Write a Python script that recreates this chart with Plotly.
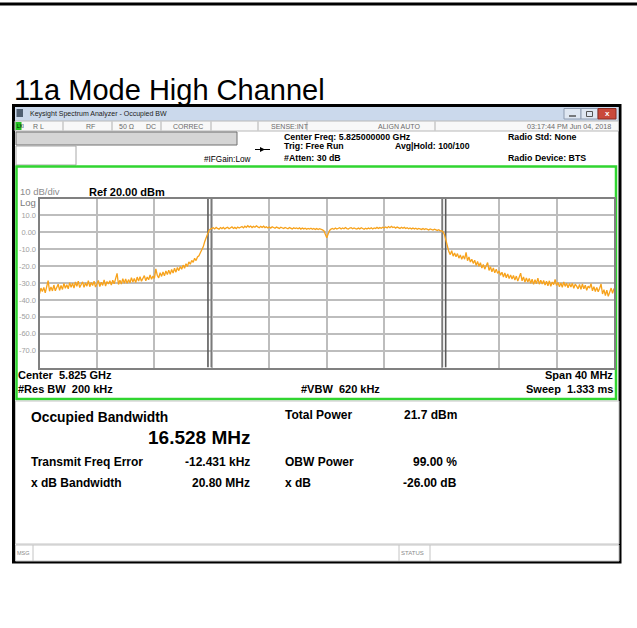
import plotly.graph_objects as go

# ---------------- data ----------------
center_ghz = 5.825
span_ghz = 0.040
ref_level_dbm = 20.0
db_per_div = 10.0
n_div = 10

# spectrum trace, 401 points across the 40 MHz span (dBm)
trace_dbm = [
    -36.4, -33.0, -35.1, -32.6, -35.8, -31.4, -28.6, -34.9, -32.3, -34.7,
    -31.2, -34.6, -32.0, -30.7, -34.4, -31.5, -33.8, -30.2, -33.1, -31.0,
    -33.4, -29.8, -32.6, -30.1, -33.0, -29.4, -31.9, -28.9, -32.7, -30.5,
    -29.3, -32.6, -30.0, -31.9, -28.6, -32.2, -29.7, -31.5, -28.9, -32.4,
    -30.9, -28.5, -32.1, -29.6, -31.4, -28.2, -31.8, -29.1, -30.6, -28.7,
    -31.2, -28.4, -30.5, -27.9, -24.3, -30.9, -28.3, -30.6, -27.5, -30.1,
    -27.6, -30.2, -28.0, -29.9, -26.8, -29.4, -27.3, -29.8, -26.5, -28.9,
    -26.3, -29.0, -27.2, -25.6, -28.7, -26.4, -28.1, -25.3, -27.8, -25.9,
    -27.3, -21.6, -25.4, -27.0, -23.9, -26.1, -23.5, -25.8, -22.9, -25.0,
    -22.4, -24.9, -22.0, -24.1, -21.3, -23.6, -20.8, -22.7, -20.2, -21.9,
    -19.4, -21.3, -18.6, -20.2, -17.5, -18.9, -16.6, -17.8, -15.4, -16.7,
    -14.6, -13.9, -12.1, -10.4, -8.6, -5.6, -2.9, -0.6, 1.2, 1.9,
    2.1, 2.7, 2.0, 2.9, 2.3, 1.9, 2.8, 2.2, 2.9, 2.0,
    2.6, 3.0, 2.1, 2.7, 3.2, 2.3, 2.9, 2.2, 3.1, 2.5,
    2.9, 3.4, 2.6, 3.6, 2.9, 3.9, 3.1, 3.7, 2.8, 3.5,
    3.0, 3.8, 3.2, 2.7, 3.5, 2.9, 3.6, 2.8, 3.3, 2.6,
    3.1, 2.5, 3.3, 2.7, 2.4, 3.1, 2.6, 2.3, 3.0, 2.5,
    2.2, 2.9, 2.4, 2.1, 2.8, 2.3, 2.0, 2.7, 2.2, 2.6,
    2.1, 2.6, 1.9, 2.5, 2.0, 2.4, 1.8, 2.3, 1.9, 2.4,
    1.8, 2.3, 1.7, 2.2, 1.6, 2.1, 1.5, 1.4, 0.9, -0.8,
    -3.2, -0.9, 1.1, 1.9, 2.3, 1.8, 2.5, 1.9, 2.4, 2.7,
    2.0, 2.6, 2.1, 2.8, 2.2, 1.9, 2.5, 2.7, 2.1, 2.6,
    2.2, 1.9, 2.5, 2.0, 2.7, 2.1, 1.8, 2.4, 1.9, 2.5,
    2.1, 2.7, 2.0, 2.6, 2.2, 2.9, 2.3, 2.8, 2.4, 3.0,
    2.5, 3.1, 2.6, 3.4, 2.7, 3.5, 2.8, 3.2, 2.5, 3.1,
    2.6, 2.3, 3.0, 2.4, 2.9, 2.2, 2.7, 2.1, 2.6, 2.0,
    2.5, 1.9, 2.4, 1.8, 2.3, 1.9, 1.7, 2.2, 1.6, 2.1,
    1.7, 1.4, 2.0, 1.5, 1.3, 1.8, 1.4, 1.1, 1.5, 0.9,
    0.9, 0.2, -1.5, -4.6, -8.8, -11.4, -13.2, -10.9, -14.1, -12.3,
    -14.5, -12.6, -15.3, -13.4, -16.0, -13.8, -15.9, -11.9, -16.8, -14.6,
    -17.6, -15.9, -18.4, -16.5, -19.6, -17.3, -20.1, -18.0, -21.2, -19.0,
    -21.8, -19.6, -17.9, -22.6, -20.4, -23.4, -21.1, -24.0, -21.8, -24.3,
    -22.9, -25.4, -23.6, -26.5, -24.1, -26.9, -24.6, -27.4, -25.2, -27.6,
    -25.5, -28.3, -25.9, -28.9, -26.6, -24.2, -28.7, -26.4, -29.5, -27.0,
    -29.4, -27.3, -30.2, -27.8, -30.8, -28.0, -30.4, -27.1, -30.7, -28.4,
    -30.6, -28.5, -31.2, -29.0, -31.6, -28.7, -31.9, -29.4, -31.0, -27.9,
    -31.5, -29.6, -32.3, -30.0, -32.5, -29.4, -32.0, -30.1, -32.9, -30.3,
    -32.4, -30.2, -33.1, -30.7, -31.9, -33.5, -30.9, -33.8, -30.6, -33.4,
    -31.3, -34.3, -31.9, -33.0, -30.4, -34.6, -32.2, -35.0, -32.6, -35.2,
    -33.1, -30.6, -36.5, -33.9, -37.4, -34.2, -37.9, -34.8, -33.0, -36.1,
    -33.2,
]

# occupied-bandwidth marker lines (GHz)
obw_marker_ghz = [5.81673, 5.81696, 5.83305, 5.83328]
obw_marker_colors = ["#5a5a5a", "#7a7a7a", "#7a7a7a", "#5a5a5a"]

y_tick_vals = [10, 0, -10, -20, -30, -40, -50, -60, -70]
y_tick_text = ["10.0", "0.00", "-10.0", "-20.0", "-30.0", "-40.0", "-50.0", "-60.0", "-70.0"]

page_title = "11a Mode High Channel"
window_title = "Keysight Spectrum Analyzer - Occupied BW"
status_items = ["R L", "RF", "50 \u03a9", "DC", "CORREC", "SENSE:INT", "ALIGN AUTO"]
timestamp = "03:17:44 PM Jun 04, 2018"
settings_col1 = ["Center Freq: 5.825000000 GHz", "Trig: Free Run", "#Atten: 30 dB"]
settings_avg = "Avg|Hold: 100/100"
settings_col3 = ["Radio Std: None", "Radio Device: BTS"]
if_gain = "#IFGain:Low"
scale_text = "10 dB/div"
ref_text = "Ref 20.00 dBm"
bottom_left = ["Center\u00a0\u00a05.825 GHz", "#Res BW\u00a0\u00a0200 kHz"]
bottom_mid = "#VBW\u00a0\u00a0620 kHz"
bottom_right = ["Span 40 MHz", "Sweep\u00a0\u00a01.333 ms"]
obw_label = "Occupied Bandwidth"
obw_value = "16.528 MHz"
result_labels_left = ["Transmit Freq Error", "x dB Bandwidth"]
result_values_left = ["-12.431 kHz", "20.80 MHz"]
result_labels_right = ["Total Power", "OBW Power", "x dB"]
result_values_right = ["21.7 dBm", "99.00 %", "-26.00 dB"]

# ---------------- layout helpers ----------------
W, H = 637, 628
FONT = "Liberation Sans, Arial, sans-serif"


def px(x):
    return x / W


def py(y):
    return 1 - y / H


shapes = []
annotations = []


def rect(x0, y0, x1, y1, fill=None, line=None, lw=1):
    shapes.append(dict(type="rect", xref="paper", yref="paper",
                       x0=px(x0), x1=px(x1), y0=py(y1), y1=py(y0),
                       fillcolor=fill if fill else "rgba(0,0,0,0)",
                       line=dict(color=line if line else "rgba(0,0,0,0)", width=lw if line else 0),
                       layer="below"))


def hline(x0, y0, x1, y1, color, lw=1):
    shapes.append(dict(type="line", xref="paper", yref="paper",
                       x0=px(x0), x1=px(x1), y0=py(y0), y1=py(y1),
                       line=dict(color=color, width=lw), layer="below"))


def text(x, y, s, size, color="#000000", bold=False, anchor="left", family=FONT):
    annotations.append(dict(x=px(x), y=py(y), xref="paper", yref="paper",
                            text=("<b>%s</b>" % s) if bold else s, showarrow=False,
                            xanchor=anchor, yanchor="middle", borderpad=0,
                            font=dict(size=size, color=color, family=family)))


# page decoration
hline(0, 4, 637, 4, "#000000", 3)
text(13, 90, page_title, 29)

# window
rect(13.5, 105.5, 620, 562, fill="#ffffff", line="#000000", lw=3)
rect(15, 107, 618.5, 121, fill="#cbd9ec")
rect(16.5, 109, 23, 117, fill="#4f5f72")
text(29, 114, window_title, 7, color="#222222")
rect(564, 108.5, 581, 119, fill="#dfe7f2", line="#8d9bb0")
rect(581, 108.5, 598, 119, fill="#dfe7f2", line="#8d9bb0")
rect(598, 108.5, 616, 119, fill="#c9493b", line="#8b2c22")
hline(569, 116, 576, 116, "#555555", 1.5)
rect(586.5, 111.5, 592.5, 116.5, line="#555555", lw=1)
text(607, 113.5, "x", 8, color="#ffffff", bold=True, anchor="center")

# status row
rect(15, 121, 618.5, 131, fill="#f8f8f8", line="#b8b8b8")
rect(15.5, 122, 21.5, 130, fill="#22c022")
text(15.5, 126, "LXI", 4.5, color="#000000")
status_x = [32, 85, 118, 145, 172, 270, 377]
for sx, s in zip(status_x, status_items):
    text(sx, 126, s, 7, color="#6a6a6a")
text(612, 126, timestamp, 7.2, color="#6a6a6a", anchor="right")
for sep in [63, 112, 161, 211, 258, 307, 435]:
    hline(sep, 121.5, sep, 130.5, "#b0b0b0", 1)

# settings area
rect(16, 132, 237, 145, fill="#d5d5d5", line="#707070")
rect(16, 146, 76, 165, fill="#ffffff", line="#a8a8a8")
hline(255, 149.5, 270, 149.5, "#000000", 1)
shapes.append(dict(type="path", xref="paper", yref="paper",
                   path="M %f %f L %f %f L %f %f Z" % (px(260), py(147), px(265), py(149.5), px(260), py(152)),
                   fillcolor="#000000", line=dict(width=0), layer="below"))
text(203, 159, if_gain, 8.2)
for yy, s in zip([137, 146.5, 157.5], settings_col1):
    text(283, yy, s, 8.8, bold=True)
text(394, 146.5, settings_avg, 8.7, bold=True)
for yy, s in zip([136.5, 158], settings_col3):
    text(507, yy, s, 8.8, bold=True)

# green measurement frame
rect(16.5, 166.5, 616, 399, line="#30d530", lw=2.5)
text(19, 191.5, scale_text, 9.5, color="#8c8c8c")
text(19, 202, "Log", 9.5, color="#7a7a7a")
text(88, 191.5, ref_text, 11, bold=True)
text(17, 375.5, bottom_left[0], 11, bold=True)
text(17, 388.5, bottom_left[1], 11, bold=True)
text(300, 388.5, bottom_mid, 11, bold=True)
text(614, 375.5, bottom_right[0], 11, bold=True, anchor="right")
text(614, 388.5, bottom_right[1], 11, bold=True, anchor="right")

# results panel
rect(15.5, 401, 619, 544, fill="#ffffff", line="#c4c4c4")
text(30, 417, obw_label, 13.8, bold=True)
text(251, 437.5, obw_value, 19, bold=True, anchor="right")
for yy, lab, val in zip([462, 483], result_labels_left, result_values_left):
    text(30, yy, lab, 12, bold=True)
    text(251, yy, val, 12, bold=True, anchor="right")
for yy, lab, val in zip([414.5, 462, 483], result_labels_right, result_values_right):
    text(284, yy, lab, 12, bold=True)
    text(458, yy, val, 12, bold=True, anchor="right")

# status bar
rect(15.5, 545, 619, 561, fill="#ffffff", line="#c4c4c4")
for sep in [33, 399, 430]:
    hline(sep, 545, sep, 561, "#c4c4c4", 1)
text(16, 553, "MSG", 5.5, color="#8a8a8a")
text(400, 553, "STATUS", 6, color="#8a8a8a")

# ---------------- traces ----------------
n = len(trace_dbm)
f_start = center_ghz - span_ghz / 2
f_stop = center_ghz + span_ghz / 2
freqs = [f_start + i * (f_stop - f_start) / (n - 1) for i in range(n)]
y_top = ref_level_dbm
y_bot = ref_level_dbm - db_per_div * n_div

fig = go.Figure()
for fx, col in zip(obw_marker_ghz, obw_marker_colors):
    fig.add_trace(go.Scatter(x=[fx, fx], y=[y_bot, y_top], mode="lines",
                             line=dict(color=col, width=1.6), hoverinfo="skip", showlegend=False))
fig.add_trace(go.Scatter(x=freqs, y=trace_dbm, mode="lines",
                         line=dict(color="#f7a21b", width=1.3), showlegend=False))

fig.update_layout(
    width=W, height=H,
    margin=dict(l=0, r=0, t=0, b=0),
    paper_bgcolor="#ffffff", plot_bgcolor="#ffffff",
    showlegend=False,
    shapes=shapes, annotations=annotations,
    font=dict(family=FONT),
    xaxis=dict(domain=[px(39.5), px(614)], range=[f_start, f_stop],
               tick0=f_start, dtick=span_ghz / n_div, showticklabels=False, ticks="",
               showgrid=True, gridcolor="#bdbdbd", gridwidth=1.5, zeroline=False,
               showline=True, linecolor="#808080", linewidth=2, mirror=True),
    yaxis=dict(domain=[py(367.5), py(198.5)], range=[y_bot, y_top],
               tickvals=y_tick_vals, ticktext=y_tick_text, ticks="",
               tickfont=dict(size=7.5, color="#a0a0a0", family=FONT),
               showgrid=True, gridcolor="#bdbdbd", gridwidth=1.5, zeroline=False,
               showline=True, linecolor="#808080", linewidth=2, mirror=True),
)

fig.write_html("out.html", config={"displayModeBar": False},
               post_script="document.body.style.margin='0';")
